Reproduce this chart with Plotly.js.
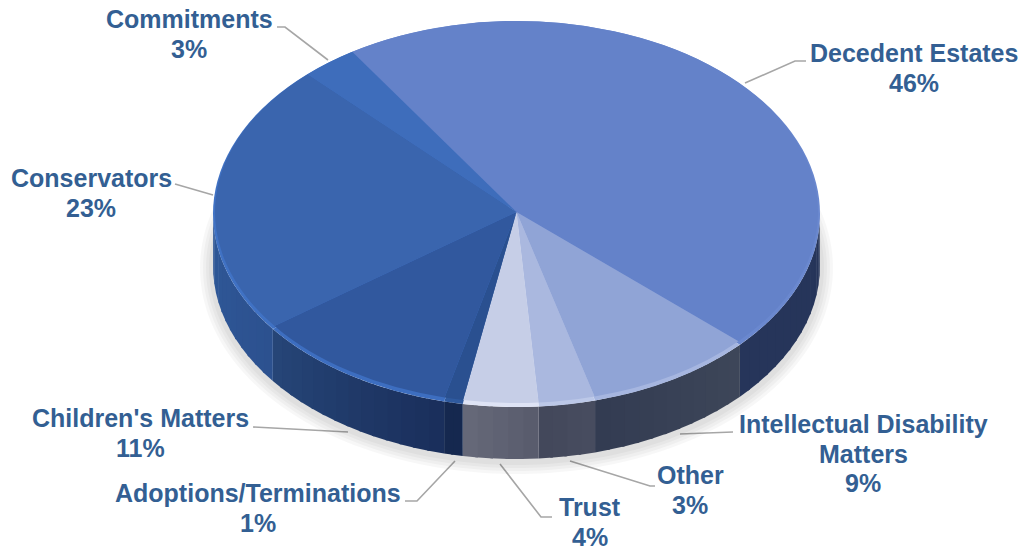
<!DOCTYPE html>
<html>
<head>
<meta charset="utf-8">
<script src="https://cdn.plot.ly/plotly-3.0.1.min.js"></script>
<style>html,body{margin:0;padding:0;background:#fff}#chart{width:1024px;height:550px}</style>
</head>
<body>
<div id="chart"></div>
<script>
// Data
const categories = ["Decedent Estates","Intellectual Disability Matters","Other","Trust","Adoptions/Terminations","Children's Matters","Conservators","Commitments"];
const shares = [46,9,3,4,1,11,23,3];
const labelLines = [["Decedent Estates"],["Intellectual Disability","Matters"],["Other"],["Trust"],["Adoptions/Terminations"],["Children's Matters"],["Conservators"],["Commitments"]];
// Styles
const faceColors = ["#6482C9","#90A4D6","#AAB8DF","#C6CEE7","#2A5090","#31589E","#3A65AE","#3E6DBB"];
const rimColors  = ["#6A88CF","#A6B6E0","#BCC8E8","#DEE3F5","#2F5A9F","#3D6EC0","#4072C4","#4274C8"];
const wallStart  = ["#26355A","#3D4659","#484D60","#575B6C","#15284F","#1A2E5B","#2C518F","#2F5898"];
const wallEnd    = ["#26355A","#333C52","#42475A","#666979","#15284F","#264678","#2F5898","#2F5898"];
const labelAnchors = [[914,53],[863,424],[690,475],[590,507],[258,493],[140,418],[91,178],[189,19]];
const leaderPaths = [
  [[745,83],[795,61],[806,61]],
  [[680,434],[733,432]],
  [[570,461],[650,486],[655,486]],
  [[500,464],[541,517],[552,517]],
  [[405,501],[417,501],[455,461]],
  [[253,427],[348,432]],
  [[175,184],[213,195]],
  [[277,27],[285,27],[328,60]]
];
const cx = 516.5, cy = 214, rx = 303.5, ry = 193, depth = 52, startAngle = -33, lineStep = 29.5;
const textColor = "#335F93", leaderColor = "#A6A6A6";

const rad = d => d*Math.PI/180;
const px = (t) => cx + rx*Math.sin(rad(t));
const py = (t, off) => cy - ry*Math.cos(rad(t)) + off;
const hex = c => [1,3,5].map(i => parseInt(c.substr(i,2),16));
const mix = (a,b,f) => { const A=hex(a),B=hex(b); return "rgb("+A.map((v,i)=>Math.round(v+(B[i]-v)*f)).join(",")+")"; };

const traces = [];
// soft ground shadow
[26,20,14,8].forEach(w => {
  const xs=[], ys=[];
  for (let t=72; t<=288; t+=3) { xs.push(px(t)); ys.push(py(t,depth+2)); }
  traces.push({type:"scatter",mode:"lines",x:xs,y:ys,hoverinfo:"skip",showlegend:false,
    line:{color:"rgba(0,0,0,0.03)",width:w,shape:"spline"}});
});
// side wall, clipped to the front half, derived from the shares
const total = shares.reduce((a,b)=>a+b,0);
let acc = startAngle;
const ranges = shares.map(v => { const a=acc; acc += v/total*360; return [a,acc]; });
ranges.forEach((r,i) => {
  const a = Math.max(r[0],90), b = Math.min(r[1],270);
  if (b <= a) return;
  const n = Math.max(1, Math.ceil((b-a)/3));
  for (let k=0;k<n;k++) {
    const t0=a+(b-a)*k/n;
    const t1=Math.min(b, a+(b-a)*(k+1)/n + 0.5); // overlap the next strip to hide seams
    const xs=[], ys=[];
    for (let j=0;j<=4;j++){ const t=t0+(t1-t0)*j/4; xs.push(px(t)); ys.push(py(t,0)); }
    for (let j=4;j>=0;j--){ const t=t0+(t1-t0)*j/4; xs.push(px(t)); ys.push(py(t,depth)); }
    const col = mix(wallStart[i],wallEnd[i],(k+0.5)/n);
    traces.push({type:"scatter",mode:"lines",x:xs,y:ys,fill:"toself",fillcolor:col,
      line:{color:"rgba(0,0,0,0)",width:0},hoverinfo:"skip",showlegend:false});
  }
});
// rim and top face
[rimColors,faceColors].forEach(colors => {
  traces.push({type:"pie",labels:categories,values:shares,sort:false,direction:"clockwise",rotation:startAngle,
    marker:{colors:colors,line:{width:0}},textinfo:"none",hoverinfo:"skip",showlegend:false,
    domain:{x:[0,1],y:[0,1]}});
});

const annotations = [];
labelLines.forEach((lines,i) => {
  lines.concat([shares[i]+"%"]).forEach((txt,k) => {
    annotations.push({xref:"x",yref:"y",x:labelAnchors[i][0],y:labelAnchors[i][1]+k*lineStep,
      text:txt,showarrow:false,xanchor:"center",yanchor:"middle",align:"center",
      font:{family:"Liberation Sans, Arial, sans-serif",size:25,color:textColor,weight:700}});
  });
});
const shapes = leaderPaths.map(p=>({type:"path",xref:"x",yref:"y",layer:"below",
  path:p.map((q,i)=>(i?"L":"M")+q[0]+","+q[1]).join(" "),line:{color:leaderColor,width:1.6}}));

const layout = {width:1024,height:550,margin:{l:0,r:0,t:0,b:0},paper_bgcolor:"#fff",plot_bgcolor:"#fff",
  showlegend:false,annotations,shapes,
  xaxis:{range:[0,1024],visible:false,fixedrange:true},
  yaxis:{range:[550,0],visible:false,fixedrange:true}};

function tilt(){
  const groups = document.querySelectorAll(".pielayer .trace");
  const base = 275, c0x = 512, c0y = 275;
  groups.forEach((g,i)=>{
    const isTop = i===groups.length-1;
    const sx = (isTop?rx-2:rx)/base, sy = (isTop?ry-2:ry)/base, oy = isTop?cy-2:cy;
    g.setAttribute("transform","translate("+cx+","+oy+") scale("+sx+","+sy+") translate("+(-c0x)+","+(-c0y)+")");
  });
}
Plotly.newPlot("chart",traces,layout,{displayModeBar:false,staticPlot:true}).then(tilt);
</script>
</body>
</html>
